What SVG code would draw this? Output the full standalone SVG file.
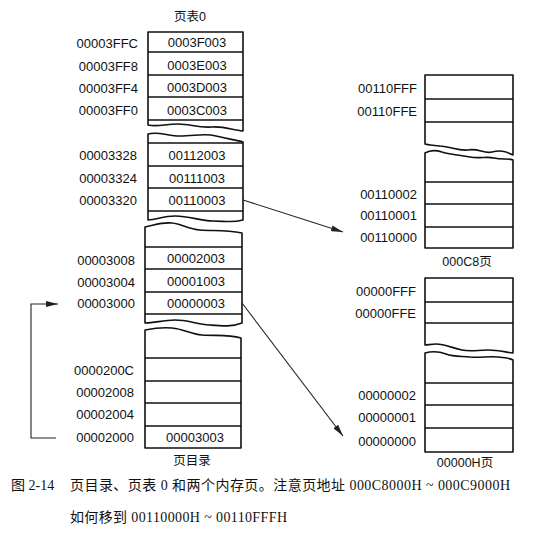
<svg xmlns="http://www.w3.org/2000/svg" width="534" height="539" viewBox="0 0 534 539">
<style>
.box{fill:#fff;stroke:#111;stroke-width:1.6;stroke-linejoin:round}
.row{stroke:#111;stroke-width:1.3}
.lbl{font-family:"Liberation Sans",Arial,sans-serif;font-size:13px;fill:#111}
.r{text-anchor:end}
.c{text-anchor:middle}
.cjk{font-family:"Liberation Sans","Noto Sans CJK SC",sans-serif;font-size:12.5px;fill:#111;text-anchor:middle}
.cap{font-family:"Liberation Serif","Noto Sans CJK SC",serif;font-size:14px;fill:#111}
.conn{fill:none;stroke:#222;stroke-width:1.1}
</style>
<defs>
<marker id="ah" viewBox="0 0 12 6" refX="12" refY="3" markerWidth="12" markerHeight="6" markerUnits="userSpaceOnUse" orient="auto">
<path d="M0,0 L12,3 L0,6 Z" fill="#222"/>
</marker>
</defs>

<g id="pagetable0">
<text class="cjk" x="190" y="21">页表0</text>
<path class="box" d="M148,32 H243 V131 C232,130 224,126 212,127 C198,128 190,124 178,124 C165,124 158,127 148,125 Z"/>
<line class="row" x1="148" y1="52" x2="243" y2="52"/>
<line class="row" x1="148" y1="75" x2="243" y2="75"/>
<line class="row" x1="148" y1="97" x2="243" y2="97"/>
<line class="row" x1="148" y1="120" x2="243" y2="120"/>
<path class="box" d="M148,134 C158,131 168,136 180,136 C195,136 205,133 216,136 C228,139 236,140 243,142 V220 C232,223 225,221 213,221 C200,221 190,216 175,216 C163,216 156,220 148,220 Z"/>
<line class="row" x1="148" y1="143" x2="243" y2="143"/>
<line class="row" x1="148" y1="166" x2="243" y2="166"/>
<line class="row" x1="148" y1="188" x2="243" y2="188"/>
<line class="row" x1="148" y1="211" x2="243" y2="211"/>
<path class="box" d="M145,227 C155,225 162,222 172,223 C182,224 188,229 200,230 C215,231 225,230 242,233 V323 C232,327 222,326 210,325 C196,324 188,320 175,320 C163,320 155,323 145,323 Z"/>
<line class="row" x1="145" y1="247" x2="242" y2="247"/>
<line class="row" x1="145" y1="269" x2="242" y2="269"/>
<line class="row" x1="145" y1="292" x2="242" y2="292"/>
<line class="row" x1="145" y1="314" x2="242" y2="314"/>
<text class="lbl r" x="138" y="48">00003FFC</text>
<text class="lbl r" x="138" y="71">00003FF8</text>
<text class="lbl r" x="138" y="93">00003FF4</text>
<text class="lbl r" x="138" y="115">00003FF0</text>
<text class="lbl r" x="137" y="160">00003328</text>
<text class="lbl r" x="137" y="183">00003324</text>
<text class="lbl r" x="137" y="205">00003320</text>
<text class="lbl r" x="135" y="265">00003008</text>
<text class="lbl r" x="135" y="287">00003004</text>
<text class="lbl r" x="135" y="308">00003000</text>
<text class="lbl c" x="197" y="47">0003F003</text>
<text class="lbl c" x="197" y="70">0003E003</text>
<text class="lbl c" x="197" y="92">0003D003</text>
<text class="lbl c" x="197" y="115">0003C003</text>
<text class="lbl c" x="197" y="160">00112003</text>
<text class="lbl c" x="197" y="183">00111003</text>
<text class="lbl c" x="197" y="205">00110003</text>
<text class="lbl c" x="196" y="263">00002003</text>
<text class="lbl c" x="196" y="286">00001003</text>
<text class="lbl c" x="196" y="308">00000003</text>
</g>

<g id="pagedirectory">
<path class="box" d="M145,330 C155,328 162,327 172,328 C184,329 190,334 202,335 C216,336 228,334 241,338 V448 H145 Z"/>
<line class="row" x1="145" y1="358" x2="241" y2="358"/>
<line class="row" x1="145" y1="381" x2="241" y2="381"/>
<line class="row" x1="145" y1="403" x2="241" y2="403"/>
<line class="row" x1="145" y1="426" x2="241" y2="426"/>
<text class="lbl r" x="134" y="375">0000200C</text>
<text class="lbl r" x="134" y="397">00002008</text>
<text class="lbl r" x="134" y="419">00002004</text>
<text class="lbl r" x="134" y="442">00002000</text>
<text class="lbl c" x="195" y="442">00003003</text>
<text class="cjk" x="192" y="465">页目录</text>
</g>

<g id="page000C8">
<path class="box" d="M425,75 H513 V155 C505,151 500,150 492,152 C484,154 478,148 468,150 C458,151 452,147 440,146 C432,145 428,145 425,144 Z"/>
<line class="row" x1="425" y1="99" x2="513" y2="99"/>
<line class="row" x1="425" y1="122" x2="513" y2="122"/>
<path class="box" d="M425,153 C430,150 436,150 442,152 C452,155 460,155 470,157 C480,159 486,156 494,158 C502,160 508,158 513,160 V248 H425 Z"/>
<line class="row" x1="425" y1="182" x2="513" y2="182"/>
<line class="row" x1="425" y1="204" x2="513" y2="204"/>
<line class="row" x1="425" y1="227" x2="513" y2="227"/>
<text class="lbl r" x="417" y="93">00110FFF</text>
<text class="lbl r" x="417" y="116">00110FFE</text>
<text class="lbl r" x="417" y="199">00110002</text>
<text class="lbl r" x="417" y="220">00110001</text>
<text class="lbl r" x="417" y="242">00110000</text>
<text class="cjk" x="467" y="266">000C8页</text>
</g>

<g id="page00000">
<path class="box" d="M425,278 H513 V353 C505,352 498,350 488,350 C478,350 470,352 462,350 C452,348 445,344 436,344 C431,344 428,345 425,345 Z"/>
<line class="row" x1="425" y1="302" x2="513" y2="302"/>
<line class="row" x1="425" y1="323" x2="513" y2="323"/>
<path class="box" d="M425,353 C432,351 438,351 446,354 C454,357 462,356 470,357 C480,358 488,356 498,357 C506,358 510,358 513,360 V452 H425 Z"/>
<line class="row" x1="425" y1="383" x2="513" y2="383"/>
<line class="row" x1="425" y1="405" x2="513" y2="405"/>
<line class="row" x1="425" y1="428" x2="513" y2="428"/>
<text class="lbl r" x="416" y="296">00000FFF</text>
<text class="lbl r" x="416" y="318">00000FFE</text>
<text class="lbl r" x="416" y="400">00000002</text>
<text class="lbl r" x="416" y="422">00000001</text>
<text class="lbl r" x="416" y="446">00000000</text>
<text class="cjk" x="465" y="467">00000H页</text>
</g>

<g id="connectors">
<line class="conn" x1="243" y1="200" x2="343" y2="232" marker-end="url(#ah)"/>
<line class="conn" x1="242" y1="303" x2="343" y2="436" marker-end="url(#ah)"/>
<polyline class="conn" points="56,438 31,438 31,304 58,304" marker-end="url(#ah)"/>
</g>

<g id="caption">
<text class="cap" x="11" y="490">图 2-14</text>
<text class="cap" x="70" y="490" textLength="440" lengthAdjust="spacing">页目录、页表 0 和两个内存页。注意页地址 000C8000H ~ 000C9000H</text>
<text class="cap" x="70" y="522" textLength="217" lengthAdjust="spacing">如何移到 00110000H ~ 00110FFFH</text>
</g>
</svg>
